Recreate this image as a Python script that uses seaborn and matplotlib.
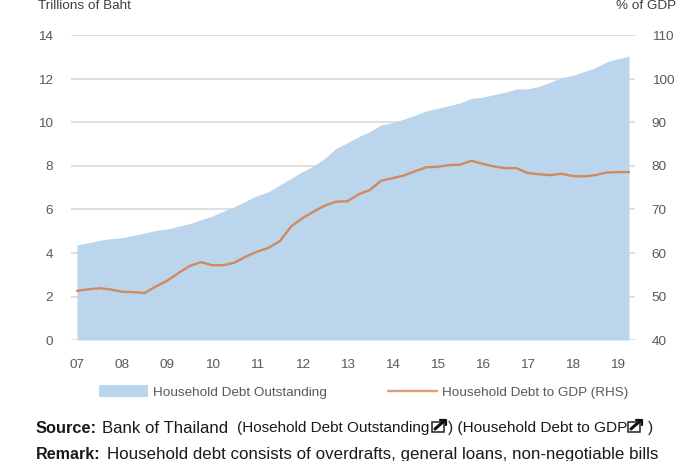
import matplotlib
matplotlib.use("Agg")
import matplotlib.pyplot as plt
from matplotlib.patches import Rectangle
from matplotlib.lines import Line2D
from matplotlib.patches import Patch
import numpy as np
import pandas as pd
import seaborn as sns

debt = [4.37,4.47,4.58,4.66,4.70,4.81,4.92,5.04,5.10,5.23,5.35,5.53,5.70,5.92,6.13,6.39,6.64,6.82,7.13,7.43,
        7.74,8.00,8.35,8.81,9.07,9.35,9.58,9.89,9.99,10.15,10.34,10.53,10.65,10.77,10.90,11.11,11.16,11.28,11.39,11.54,
        11.55,11.66,11.85,12.06,12.17,12.34,12.52,12.78,12.93,13.04]
ratio = [51.3,51.65,51.9,51.6,51.1,51.0,50.8,52.3,53.6,55.4,57.0,57.9,57.2,57.2,57.8,59.2,60.3,61.2,62.7,66.1,
         68.0,69.5,70.9,71.8,71.9,73.5,74.5,76.6,77.2,77.8,78.8,79.7,79.8,80.2,80.3,81.2,80.5,79.9,79.5,79.5,
         78.4,78.1,77.9,78.2,77.7,77.6,77.9,78.5,78.6,78.6]
year_labels = ["07","08","09","10","11","12","13","14","15","16","17","18","19"]
left_ticks = [0,2,4,6,8,10,12,14]
right_ticks = [40,50,60,70,80,90,100,110]

BLUE = "#BBD5ED"
ORANGE = "#D08A60"
GREY = "#595959"
W, H = 696, 461
sns.set_theme(style="white")
plt.rcParams['font.family'] = ['Liberation Sans', 'DejaVu Sans']
fig = plt.figure(figsize=(W/100, H/100), dpi=100, facecolor="white")
ax = fig.add_axes([71/W, 1-340/H, 564/W, 304.5/H])
df = pd.DataFrame({"q": np.arange(len(debt)), "debt": debt, "ratio": ratio})

ax.set_axisbelow(True)
ax.yaxis.grid(True, color="#DCDCDC", lw=1.3)
ax.xaxis.grid(False)
ax.fill_between(df["q"], 0, df["debt"], color=BLUE, lw=0, zorder=2)
ax.set_xlim(-0.53, 49.53)
ax.set_ylim(0, 14)
ax.set_yticks(left_ticks)
ax.set_xticks(np.arange(len(year_labels))*4)
ax.set_xticklabels(year_labels)
ax.tick_params(axis="both", length=0, labelsize=9.7, labelcolor=GREY, pad=0)
ax.tick_params(axis="x", pad=14)
ax.tick_params(axis="y", pad=13)
for s in ax.spines.values():
    s.set_visible(False)
ax.set_xlabel(""); ax.set_ylabel("")

ax2 = ax.twinx()
sns.lineplot(data=df, x="q", y="ratio", ax=ax2, color=ORANGE, lw=1.7, legend=False, zorder=3)
ax2.set_ylim(40, 110)
ax2.set_yticks(right_ticks)
ax2.tick_params(axis="y", length=0, labelsize=9.7, labelcolor=GREY, pad=12)
ax2.set_xlabel(""); ax2.set_ylabel("")
ax2.grid(False)
for s in ax2.spines.values():
    s.set_visible(False)

def T(x, y, s, **k):
    k.setdefault("va", "center")
    return fig.text(x/W, 1-y/H, s, **k)

T(38, 6, "Trillions of Baht", fontsize=9.7, color="#404040")
T(676, 6, "% of GDP", fontsize=9.7, color="#404040", ha="right")

handles = [Patch(facecolor=BLUE, lw=0, label="Household Debt Outstanding"),
           Line2D([0],[0], color="#DDA078", lw=1.7, label="Household Debt to GDP (RHS)")]
fig.legend(handles=handles, loc="center", bbox_to_anchor=(363.5/W, 1-392/H), ncol=2, frameon=False,
           fontsize=9.7, labelcolor=GREY, handlelength=3.7, handleheight=1.0, handletextpad=0.35,
           columnspacing=4.5, borderpad=0)

def icon(x, y):
    fig.add_artist(Rectangle((x/W, 1-(y+5)/H), 12/W, 10/H, transform=fig.transFigure, fill=False, ec="#222222", lw=1.1))
    fig.add_artist(Line2D([(x+3)/W, (x+12)/W], [1-(y+2)/H, 1-(y-6)/H], transform=fig.transFigure, color="#111111", lw=2.2))
    fig.add_artist(Line2D([(x+8)/W, (x+14)/W, (x+14)/W], [1-(y-7)/H, 1-(y-7)/H, 1-(y-2)/H], transform=fig.transFigure, color="#111111", lw=1.6))

DARK = "#1a1a1a"
T(36, 428, "Source:", fontsize=11.8, fontweight="bold", color=DARK)
T(102, 428, "Bank of Thailand", fontsize=12.1, color=DARK)
T(237, 428, "(Hosehold Debt Outstanding", fontsize=11, color=DARK)
icon(432, 427)
T(448, 428, ") (Household Debt to GDP", fontsize=11.1, color=DARK)
icon(628, 427)
T(648, 428, ")", fontsize=11.1, color=DARK)
T(36, 454, "Remark:", fontsize=11.6, fontweight="bold", color=DARK)
T(107, 454, "Household debt consists of overdrafts, general loans, non-negotiable bills", fontsize=12.15, color=DARK)

fig.savefig("out.png", dpi=100, facecolor="white")
